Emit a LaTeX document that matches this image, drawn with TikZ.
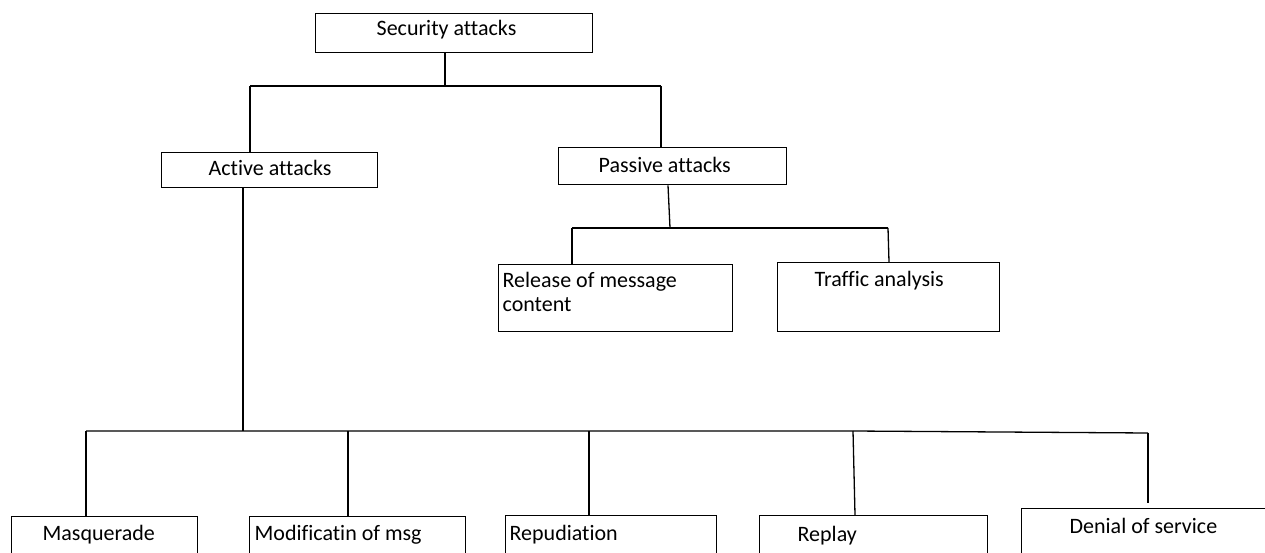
\documentclass[tikz,border=0pt]{standalone}
\usepackage{fontspec}
\newfontfamily\calib[Ligatures={NoCommon}]{Carlito}
\newcommand\bxt[3]{\parbox[t]{#1pt}{\raggedright\hspace*{#2pt}#3}}
\begin{document}
\begin{tikzpicture}[x=1pt,y=-1pt,
  box/.style={draw, line width=1.3pt, inner sep=0pt, anchor=north west,
    font=\calib\fontsize{22}{24}\selectfont},
  conn/.style={line width=1.3pt}]
\useasboundingbox (0,0) rectangle (1265,553);
\clip (0,0) rectangle (1265,553);
% boxes
\node[box, text height=22pt, text depth=17pt] (sec) at (315,13) {\bxt{277}{61}{Security attacks}};
\node[box, text height=23pt, text depth=12pt] (act) at (161,152) {\bxt{216}{47}{Active attacks}};
\node[box, text height=25pt, text depth=12pt] (pas) at (558,147) {\bxt{228}{40}{Passive attacks}};
\node[box, text height=23pt, text depth=44pt] (rel) at (498,264) {\bxt{234}{4}{Release of message\\\hspace*{4pt}content}};
\node[box, text height=24pt, text depth=45pt] (tra) at (777,262) {\bxt{222}{37}{Traffic analysis}};
\node[box, text height=24pt, text depth=30pt] (mas) at (11,516) {\bxt{186}{31}{Masquerade}};
\node[box, text height=24pt, text depth=30pt] (mod) at (249,516) {\bxt{216}{5}{Modificatin of msg}};
\node[box, text height=25pt, text depth=30pt] (rep) at (505,515) {\bxt{211}{4}{Repudiation}};
\node[box, text height=26pt, text depth=30pt] (rpl) at (759,515) {\bxt{228}{38}{Replay}};
\node[box, text height=25pt, text depth=40pt] (den) at (1021,508) {\bxt{260}{48}{Denial of service}};
% junctions
\coordinate (j1) at (445,86);
\coordinate (jL) at (250,86);
\coordinate (jR) at (661,86);
\coordinate (p1) at (670,228);
\coordinate (pL) at (572,228);
\coordinate (pR) at (888,228);
\coordinate (a1) at (243,431);
\coordinate (bL) at (86,431);
\coordinate (b2) at (348,431);
\coordinate (b3) at (589,431);
\coordinate (b4) at (853,431);
\coordinate (bR) at (1148,433);
\coordinate (dEnd) at (1148,503);
% connectors
\draw[conn] (sec.south -| j1) -- (j1);
\draw[conn] (jL) -- (jR);
\draw[conn] (jL) -- (jL |- act.north);
\draw[conn] (jR) -- (jR |- pas.north);
\draw[conn] ([xshift=-2pt]pas.south -| p1) -- (p1);
\draw[conn] (pL) -- (pR);
\draw[conn] (pL) -- (pL |- rel.north);
\draw[conn] (pR) -- ([xshift=1pt]pR |- tra.north);
\draw[conn] (act.south -| a1) -- (a1);
\draw[conn] (bL) -- (b4) -- (bR);
\draw[conn] (bL) -- (bL |- mas.north);
\draw[conn] (b2) -- (b2 |- mod.north);
\draw[conn] (b3) -- (b3 |- rep.north);
\draw[conn] (b4) -- ([xshift=2pt]b4 |- rpl.north);
\draw[conn] (bR) -- (dEnd);
\end{tikzpicture}
\end{document}
